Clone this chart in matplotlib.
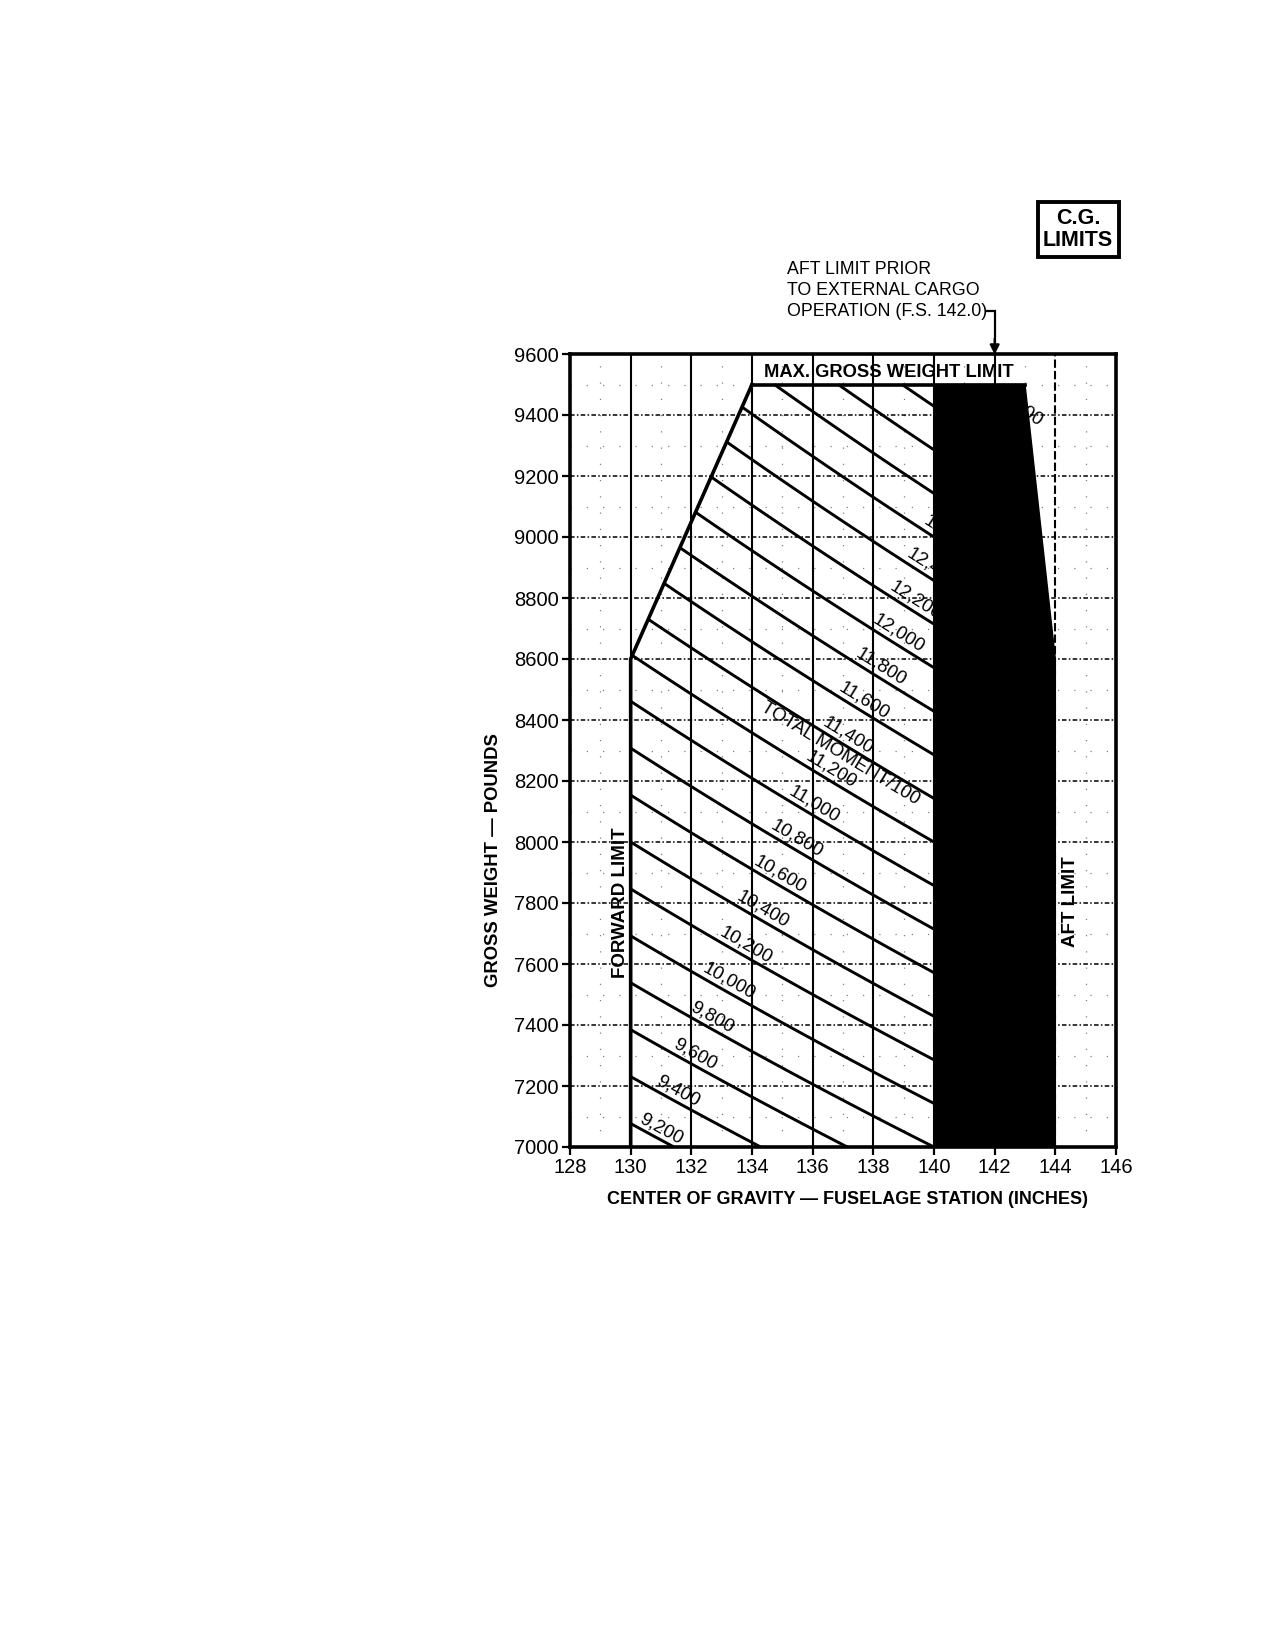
import numpy as np
import matplotlib
matplotlib.use("Agg")
import matplotlib.pyplot as plt
from matplotlib.patches import Polygon

plt.rcParams['font.family'] = ['Liberation Sans', 'DejaVu Sans']

# ---------------- data ----------------
x_ticks = [128, 130, 132, 134, 136, 138, 140, 142, 144, 146]
y_ticks = [7000, 7200, 7400, 7600, 7800, 8000, 8200, 8400, 8600, 8800, 9000, 9200, 9400, 9600]

# envelope (C.G. inches, gross weight lb)
fwd_limit_x = [130, 130, 134]
fwd_limit_w = [7000, 8600, 9500]
max_gw_x = [134, 143]
max_gw_w = [9500, 9500]
aft_region_x = [140, 140, 143, 144, 144]
aft_region_w = [7000, 9500, 9500, 8600, 7000]

# total moment / 100 lines
moments = [9200, 9400, 9600, 9800, 10000, 10200, 10400, 10600, 10800, 11000,
           11200, 11400, 11600, 11800, 12000, 12200, 12400, 12600, 12800,
           13000, 13200, 13400]

ext_cargo_aft_limit = 142.0

# ---------------- figure ----------------
fig = plt.figure(figsize=(12.71, 16.5), dpi=100)
ax = fig.add_axes([570 / 1271, 1 - 1147 / 1650, 546 / 1271, 793 / 1650])
ax.set_xlim(128, 146)
ax.set_ylim(7000, 9600)

# grid
for xv in np.arange(129, 146, 2):
    ax.axvline(xv, color='0.5', lw=0.9, ls=(0, (1, 12)), zorder=1)
for yv in np.arange(7100, 9600, 200):
    ax.axhline(yv, color='0.5', lw=0.9, ls=(0, (1, 12)), zorder=1)
for xv in x_ticks[1:-1]:
    ax.axvline(xv, color='black', lw=1.5, ls='-' if xv < 144 else (0, (4, 1.5)), zorder=1)
for yv in y_ticks[1:-1]:
    ax.axhline(yv, color='black', lw=1.1, ls=(0, (3, 1.5, 1, 1.5)), zorder=1)


def fwd_boundary(m):
    """start point of a moment line on the envelope's left/top boundary"""
    w130 = m * 100.0 / 130.0
    if w130 <= 8600:
        return 130.0
    xs = np.linspace(130, 134, 4001)
    f = (8600 + 225 * (xs - 130)) * xs - m * 100.0
    if f[-1] >= 0:
        return xs[np.argmax(f >= 0)]
    return m * 100.0 / 9500.0


for m in moments:
    x0 = fwd_boundary(m)
    x1 = min(140.0, m * 100.0 / 7000.0)
    if x0 < x1:
        xs = np.linspace(x0, x1, 100)
        ws = m * 100.0 / xs
        ax.plot(xs, ws, color='black', lw=2.1, solid_capstyle='butt', zorder=3)
    xl = 130.88 + 0.557 * (m - 9200) / 200.0
    wl = m * 100.0 / xl
    ang = np.degrees(np.arctan2(-wl / xl, 1.0))
    ax.text(xl, wl + 6, f"{m:,}", fontsize=13.5, ha='center', va='bottom',
            rotation=ang, rotation_mode='anchor', transform_rotates_text=True,
            zorder=6)

# total moment label
xt = 136.9
wt = 8290
ax.text(xt, wt, "TOTAL MOMENT/100", fontsize=13.5, ha='center', va='center',
        rotation=np.degrees(np.arctan2(-wt / xt, 1.0)), rotation_mode='anchor',
        transform_rotates_text=True, zorder=6)

# envelope lines
ax.plot(fwd_limit_x, fwd_limit_w, color='black', lw=2.6, zorder=4, solid_joinstyle='miter')
ax.plot(max_gw_x, max_gw_w, color='black', lw=2.6, zorder=4)

# aft shaded region
ax.add_patch(Polygon(np.column_stack([aft_region_x, aft_region_w]), closed=True,
                     facecolor='black', edgecolor='black', lw=1, zorder=5))

# annotations
ax.text(138.5, 9512, "MAX. GROSS WEIGHT LIMIT", fontsize=13.2, fontweight='bold',
        ha='center', va='bottom', zorder=7)
ax.text(129.65, 7800, "FORWARD LIMIT", fontsize=13.5, fontweight='bold',
        rotation=90, ha='center', va='center', zorder=7)
ax.text(144.5, 7805, "AFT LIMIT", fontsize=13.5, fontweight='bold',
        rotation=90, ha='center', va='center', zorder=7)

ax.text(135.15, 9808, "AFT LIMIT PRIOR\nTO EXTERNAL CARGO\nOPERATION (F.S. 142.0)",
        fontsize=12.8, ha='left', va='center', linespacing=1.3, clip_on=False)
ax.plot([141.72, ext_cargo_aft_limit, ext_cargo_aft_limit], [9740, 9740, 9640],
        color='black', lw=1.6, clip_on=False, solid_joinstyle='miter')
ax.annotate("", xy=(ext_cargo_aft_limit, 9598), xytext=(ext_cargo_aft_limit, 9650),
            arrowprops=dict(arrowstyle='-|>', color='black', lw=1.6,
                            mutation_scale=14, shrinkA=0, shrinkB=0),
            annotation_clip=False)

ax.text(144.75, 10008, "C.G.\nLIMITS", fontsize=15.5, fontweight='bold',
        ha='center', va='center', linespacing=1.1, clip_on=False,
        bbox=dict(boxstyle='square,pad=0.25', facecolor='white',
                  edgecolor='black', lw=2.8))

# axes
ax.set_xticks(x_ticks)
ax.set_yticks(y_ticks)
ax.tick_params(direction='out', length=6, width=1.6, labelsize=14.5, pad=2)
for s in ax.spines.values():
    s.set_linewidth(2.6)
    s.set_zorder(8)

ax.set_xlabel("CENTER OF GRAVITY — FUSELAGE STATION (INCHES)", fontsize=13.0,
              fontweight='bold')
ax.xaxis.set_label_coords((137.15 - 128) / 18, -0.055)
ax.set_ylabel("GROSS WEIGHT — POUNDS", fontsize=13.3, fontweight='bold')
ax.yaxis.set_label_coords(-0.125, (7940 - 7000) / 2600)

fig.savefig("out.png", dpi=100, facecolor='white')
